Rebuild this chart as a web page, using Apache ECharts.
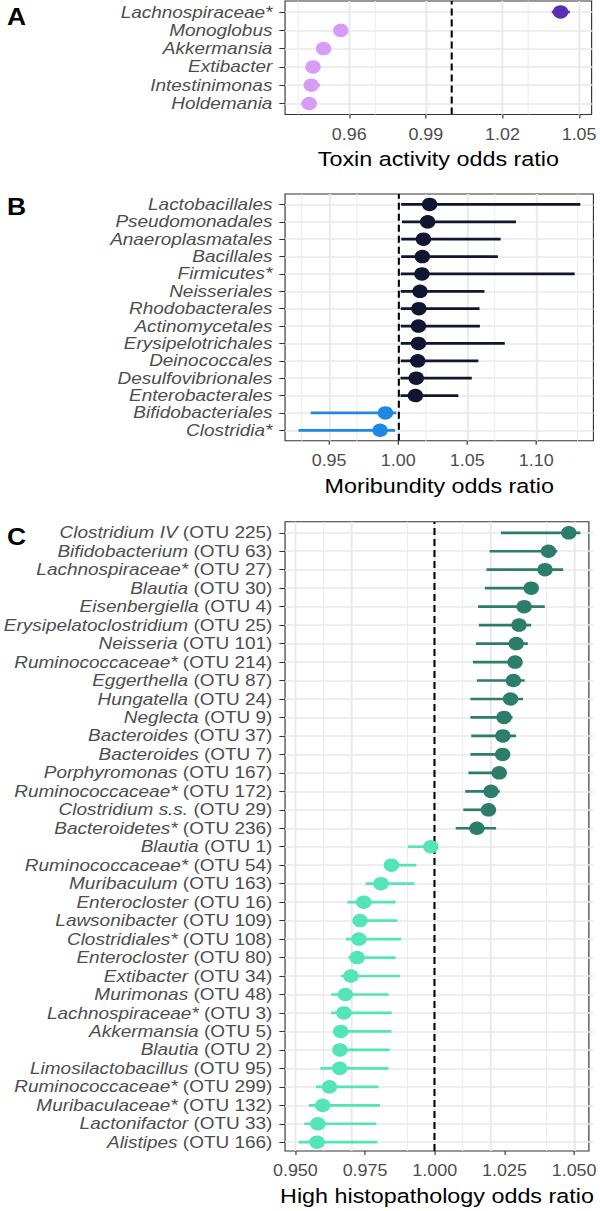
<!DOCTYPE html>
<html>
<head>
<meta charset="utf-8">
<script src="https://cdn.jsdelivr.net/npm/echarts@6/dist/echarts.min.js"></script>
<style>
  html, body { margin: 0; padding: 0; background: #fff; overflow: hidden; }
  #wrap { width: 600px; height: 1211px; overflow: hidden; }
  #chart { width: 522px; height: 1211px; transform: scaleX(1.1494); transform-origin: 0 0; }
</style>
</head>
<body>
<div id="wrap"><div id="chart"></div></div>
<script>
// ---------- Panel A: toxin activity ----------
const aNames = ['Lachnospiraceae*', 'Monoglobus', 'Akkermansia', 'Extibacter', 'Intestinimonas', 'Holdemania'];
const aOR = [1.0421, 0.9566, 0.9499, 0.9458, 0.9451, 0.9443];
const aLo = [1.0387, 0.9556, 0.9469, 0.9449, 0.9440, 0.9412];
const aHi = [1.0457, 0.9576, 0.9528, 0.9468, 0.9485, 0.9455];
const aTicks = [0.96, 0.99, 1.02, 1.05];
const aMinor = [0.945, 0.975, 1.005, 1.035];
const aRange = [0.9349, 1.0549];

// ---------- Panel B: moribundity ----------
const bNames = ['Lactobacillales', 'Pseudomonadales', 'Anaeroplasmatales', 'Bacillales', 'Firmicutes*',
  'Neisseriales', 'Rhodobacterales', 'Actinomycetales', 'Erysipelotrichales', 'Deinococcales',
  'Desulfovibrionales', 'Enterobacterales', 'Bifidobacteriales', 'Clostridia*'];
const bOR = [1.0228, 1.0214, 1.0183, 1.0175, 1.0172, 1.0158, 1.0150, 1.0147, 1.0147, 1.0142, 1.0131, 1.0125, 0.9908, 0.9869];
const bLo = [1.0022, 1.0028, 1.0022, 1.0022, 1.0019, 1.0019, 1.0019, 1.0019, 1.0019, 1.0019, 1.0017, 1.0017, 0.9367, 0.9278];
const bHi = [1.1319, 1.0853, 1.0742, 1.0722, 1.1278, 1.0625, 1.0589, 1.0592, 1.0772, 1.0581, 1.0533, 1.0436, 0.9986, 0.9978];
const bTicks = [0.95, 1.00, 1.05, 1.10];
const bMinor = [0.925, 0.975, 1.025, 1.075, 1.125];
const bRange = [0.9181, 1.1414];

// ---------- Panel C: high histopathology ----------
const cGenus = ['Clostridium IV', 'Bifidobacterium', 'Lachnospiraceae*', 'Blautia', 'Eisenbergiella',
  'Erysipelatoclostridium', 'Neisseria', 'Ruminococcaceae*', 'Eggerthella', 'Hungatella', 'Neglecta',
  'Bacteroides', 'Bacteroides', 'Porphyromonas', 'Ruminococcaceae*', 'Clostridium s.s.', 'Bacteroidetes*',
  'Blautia', 'Ruminococcaceae*', 'Muribaculum', 'Enterocloster', 'Lawsonibacter', 'Clostridiales*',
  'Enterocloster', 'Extibacter', 'Murimonas', 'Lachnospiraceae*', 'Akkermansia', 'Blautia',
  'Limosilactobacillus', 'Ruminococcaceae*', 'Muribaculaceae*', 'Lactonifactor', 'Alistipes'];
const cOtu = [225, 63, 27, 30, 4, 25, 101, 214, 87, 24, 9, 37, 7, 167, 172, 29, 236,
  1, 54, 163, 16, 109, 108, 80, 34, 48, 3, 5, 2, 95, 299, 132, 33, 166];
const cOR = [1.0466, 1.0394, 1.0382, 1.0333, 1.0308, 1.0290, 1.0280, 1.0276, 1.0270, 1.0260, 1.0237,
  1.0233, 1.0232, 1.0220, 1.0191, 1.0182, 1.0141,
  0.9978, 0.9839, 0.9802, 0.9741, 0.9728, 0.9724, 0.9718, 0.9696, 0.9676, 0.9671, 0.9660, 0.9657,
  0.9656, 0.9620, 0.9596, 0.9579, 0.9576];
const cLo = [1.0226, 1.0186, 1.0175, 1.0169, 1.0145, 1.0148, 1.0138, 1.0127, 1.0141, 1.0118, 1.0118,
  1.0121, 1.0118, 1.0111, 1.0100, 1.0093, 1.0066,
  0.9897, 0.9816, 0.9748, 0.9683, 0.9707, 0.9678, 0.9687, 0.9660, 0.9626, 0.9626, 0.9633, 0.9633,
  0.9588, 0.9572, 0.9547, 0.9531, 0.9511];
const cHi = [1.0507, 1.0425, 1.0446, 1.0351, 1.0381, 1.0333, 1.0321, 1.0299, 1.0310, 1.0304, 1.0267,
  1.0279, 1.0256, 1.0245, 1.0222, 1.0205, 1.0209,
  0.9999, 0.9927, 0.9920, 0.9854, 0.9860, 0.9873, 0.9854, 0.9870, 0.9829, 0.9840, 0.9839, 0.9833,
  0.9829, 0.9793, 0.9799, 0.9786, 0.9789];
const cTicks = [0.950, 0.975, 1.000, 1.025, 1.050];
const cMinor = [0.9625, 0.9875, 1.0125, 1.0375];
const cRange = [0.9463, 1.0553];

const refLine = 1.0;

// ---------- styling / layout ----------
const FONT = "'Liberation Sans', Arial, Helvetica, sans-serif";
const TXT = '#4d4d4d';
const GRID_LEFT = 248, GRID_W = 268.3;
const YLAB_SIZE = 16.5, XLAB_SIZE = 15.6, TITLE_SIZE = 20.3;

const panels = [
  { letter: 'A', letterTop: 1, top: 1, h: 113.5, names: aNames, or: aOR, lo: aLo, hi: aHi,
    ticks: aTicks, minor: aMinor, range: aRange, dec: 2, title: 'Toxin activity odds ratio',
    dark: '#5a2db6', light: '#d89cf6', otu: null },
  { letter: 'B', letterTop: 191, top: 194, h: 246.7, names: bNames, or: bOR, lo: bLo, hi: bHi,
    ticks: bTicks, minor: bMinor, range: bRange, dec: 2, title: 'Moribundity odds ratio',
    dark: '#0e1630', light: '#1e88e5', otu: null },
  { letter: 'C', letterTop: 521, top: 521.7, h: 631.6, names: cGenus, or: cOR, lo: cLo, hi: cHi,
    ticks: cTicks, minor: cMinor, range: cRange, dec: 3, title: 'High histopathology odds ratio',
    dark: '#2d7d6c', light: '#53e4b8', otu: cOtu }
];

const grid = [], xAxis = [], yAxis = [], series = [], title = [];

panels.forEach((P, k) => {
  const n = P.names.length;
  const u = P.h / (n + 0.2);
  const gOuter = 2 * k, gInner = 2 * k + 1;
  title.push({ text: P.letter, left: 1, top: P.letterTop,
    textStyle: { fontSize: 23, fontWeight: 'bold', color: '#000', fontFamily: FONT } });
  grid.push({ left: GRID_LEFT, width: GRID_W, top: P.top, height: P.h, show: true,
    borderColor: '#333', borderWidth: 1, backgroundColor: '#fff', containLabel: false });
  grid.push({ left: GRID_LEFT, width: GRID_W, top: P.top + 0.6 * u, height: (n - 1) * u, containLabel: false });

  xAxis.push({ gridIndex: gOuter, type: 'value', min: P.range[0], max: P.range[1],
    splitLine: { show: false }, axisLine: { show: false },
    axisTick: { show: true, customValues: P.ticks, length: 4, lineStyle: { color: '#333', width: 1 } },
    axisLabel: { customValues: P.ticks, formatter: v => Number(v).toFixed(P.dec), margin: 12,
      fontSize: XLAB_SIZE, color: TXT, fontFamily: FONT },
    name: P.title, nameLocation: 'middle', nameGap: 35,
    nameTextStyle: { fontSize: TITLE_SIZE, color: '#000', fontFamily: FONT } });
  yAxis.push({ gridIndex: gOuter, type: 'value', min: 0, max: 1, show: false });

  xAxis.push({ gridIndex: gInner, type: 'value', min: P.range[0], max: P.range[1], show: false });
  const labels = P.names.map((nm, i) => P.otu ? nm + ' (OTU ' + P.otu[i] + ')' : nm);
  yAxis.push({ gridIndex: gInner, type: 'category', data: labels, inverse: true, boundaryGap: false,
    axisLine: { show: false },
    axisTick: { show: true, length: 5, lineStyle: { color: '#333', width: 1 } },
    splitLine: { show: true, lineStyle: { color: '#e9e9e9', width: 1.7 } },
    axisLabel: { margin: 11, fontSize: YLAB_SIZE, color: TXT, fontFamily: FONT, interval: 0,
      fontStyle: P.otu ? 'normal' : 'italic',
      rich: { i: { fontStyle: 'italic', fontSize: YLAB_SIZE, color: TXT, fontFamily: FONT } },
      formatter: (val, idx) => P.otu ? '{i|' + P.names[idx] + '} (OTU ' + P.otu[idx] + ')' : val } });

  // grid lines + reference line (drawn through the value axis)
  series.push({ type: 'scatter', xAxisIndex: gOuter, yAxisIndex: gOuter, data: [], silent: true, z: 1,
    markLine: { z: 1, silent: true, symbol: ['none', 'none'], label: { show: false }, animation: false,
      data: P.minor.map(v => ({ xAxis: v, lineStyle: { color: '#ececec', width: 0.9, type: 'solid' } }))
        .concat(P.ticks.map(v => ({ xAxis: v, lineStyle: { color: '#e9e9e9', width: 1.7, type: 'solid' } }))) } });
  series.push({ type: 'scatter', xAxisIndex: gOuter, yAxisIndex: gOuter, data: [], silent: true, z: 2,
    markLine: { z: 2, silent: true, symbol: ['none', 'none'], label: { show: false }, animation: false,
      data: [{ xAxis: refLine, lineStyle: { color: '#000', width: 1.8, type: [7, 4] } }] } });

  // confidence intervals
  series.push({ type: 'custom', xAxisIndex: gInner, yAxisIndex: gInner, z: 3, silent: true,
    data: P.or.map((v, i) => [P.lo[i], P.hi[i], i, v]),
    encode: { x: [0, 1], y: 2 },
    renderItem: (params, api) => {
      const p1 = api.coord([api.value(0), api.value(2)]);
      const p2 = api.coord([api.value(1), api.value(2)]);
      return { type: 'line', shape: { x1: p1[0], y1: p1[1], x2: p2[0], y2: p2[1] },
        style: { stroke: api.value(3) >= refLine ? P.dark : P.light, lineWidth: 2.7 } };
    } });
  // point estimates
  series.push({ type: 'scatter', xAxisIndex: gInner, yAxisIndex: gInner, z: 4, silent: true,
    symbol: 'circle', symbolSize: 13.5,
    data: P.or.map((v, i) => [v, i]),
    itemStyle: { opacity: 1, color: p => p.value[0] >= refLine ? P.dark : P.light } });
});

const chart = echarts.init(document.getElementById('chart'), null, { renderer: 'svg' });
chart.setOption({ animation: false, backgroundColor: '#fff', title, grid, xAxis, yAxis, series });
</script>
</body>
</html>
